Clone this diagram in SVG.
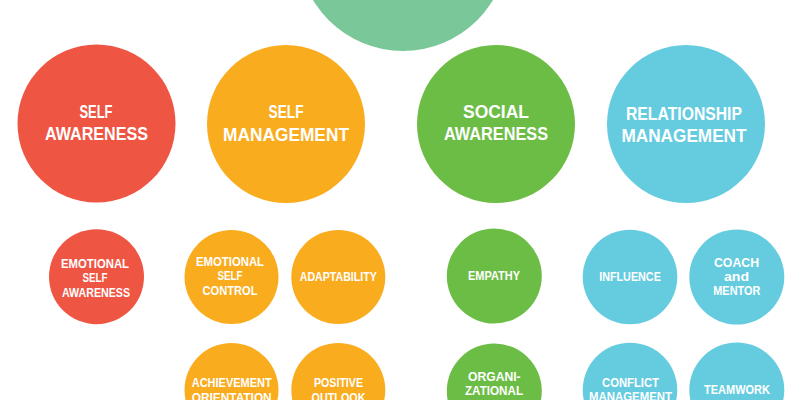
<svg xmlns="http://www.w3.org/2000/svg" width="800" height="400" viewBox="0 0 800 400">
<style>
.big{font-family:"Liberation Sans",Arial,sans-serif;font-weight:bold;font-size:17.5px;fill:#fff;text-anchor:middle}
.sm{font-family:"Liberation Sans",Arial,sans-serif;font-weight:bold;font-size:12px;fill:#fff;text-anchor:middle}
.red{fill:#EF5543}.org{fill:#FAAC1F}.grn{fill:#6CBD45}.blu{fill:#65CCE0}.teal{fill:#7AC899}
</style>
<rect width="800" height="400" fill="#fff"/>
<g id="connectors"/>
<g id="root"><circle class="teal" cx="403" cy="-54" r="105"/></g>
<g id="self-awareness"><circle class="red" cx="96.5" cy="123.5" r="79"/>
<text class="big" x="96" y="118" textLength="33" lengthAdjust="spacingAndGlyphs">SELF</text>
<text class="big" x="96.5" y="140" textLength="103" lengthAdjust="spacingAndGlyphs">AWARENESS</text></g>
<g id="self-management"><circle class="org" cx="286" cy="124" r="79"/>
<text class="big" x="286" y="118" textLength="35" lengthAdjust="spacingAndGlyphs">SELF</text>
<text class="big" x="286" y="141" textLength="126" lengthAdjust="spacingAndGlyphs">MANAGEMENT</text></g>
<g id="social-awareness"><circle class="grn" cx="496" cy="124" r="79"/>
<text class="big" x="496" y="118" textLength="66" lengthAdjust="spacingAndGlyphs">SOCIAL</text>
<text class="big" x="496" y="140" textLength="104" lengthAdjust="spacingAndGlyphs">AWARENESS</text></g>
<g id="relationship-management"><circle class="blu" cx="686" cy="124" r="79"/>
<text class="big" x="684" y="120" textLength="116" lengthAdjust="spacingAndGlyphs">RELATIONSHIP</text>
<text class="big" x="684" y="141.5" textLength="125" lengthAdjust="spacingAndGlyphs">MANAGEMENT</text></g>

<g id="emotional-self-awareness"><circle class="red" cx="96.5" cy="276.7" r="47.5"/>
<text class="sm" x="95" y="267.7" textLength="68" lengthAdjust="spacingAndGlyphs">EMOTIONAL</text>
<text class="sm" x="95" y="282.3" textLength="25" lengthAdjust="spacingAndGlyphs">SELF</text>
<text class="sm" x="96" y="296.7" textLength="68" lengthAdjust="spacingAndGlyphs">AWARENESS</text></g>
<g id="emotional-self-control"><circle class="org" cx="231.5" cy="277" r="47"/>
<text class="sm" x="230" y="265.7" textLength="68" lengthAdjust="spacingAndGlyphs">EMOTIONAL</text>
<text class="sm" x="230" y="280.3" textLength="25" lengthAdjust="spacingAndGlyphs">SELF</text>
<text class="sm" x="230" y="294.7" textLength="55" lengthAdjust="spacingAndGlyphs">CONTROL</text></g>
<g id="adaptability"><circle class="org" cx="338.3" cy="277" r="47"/>
<text class="sm" x="338.3" y="280.7" textLength="77" lengthAdjust="spacingAndGlyphs">ADAPTABILITY</text></g>
<g id="achievement-orientation"><circle class="org" cx="231.5" cy="390" r="47"/>
<text class="sm" x="231.7" y="387.3" textLength="80" lengthAdjust="spacingAndGlyphs">ACHIEVEMENT</text>
<text class="sm" x="231.7" y="401.8" textLength="80" lengthAdjust="spacingAndGlyphs">ORIENTATION</text></g>
<g id="positive-outlook"><circle class="org" cx="338.3" cy="390" r="47"/>
<text class="sm" x="338.5" y="387.3" textLength="49" lengthAdjust="spacingAndGlyphs">POSITIVE</text>
<text class="sm" x="338.5" y="401.8" textLength="54" lengthAdjust="spacingAndGlyphs">OUTLOOK</text></g>

<g id="empathy"><circle class="grn" cx="494.3" cy="276" r="47.5"/>
<text class="sm" x="494" y="280" textLength="52" lengthAdjust="spacingAndGlyphs">EMPATHY</text></g>
<g id="organizational-awareness"><circle class="grn" cx="494.3" cy="391" r="47.5"/>
<text class="sm" x="494.3" y="380.7" textLength="52.7" lengthAdjust="spacingAndGlyphs">ORGANI-</text>
<text class="sm" x="494" y="395" textLength="58" lengthAdjust="spacingAndGlyphs">ZATIONAL</text></g>

<g id="influence"><circle class="blu" cx="630" cy="277" r="47.3"/>
<text class="sm" x="630" y="281" textLength="61.7" lengthAdjust="spacingAndGlyphs">INFLUENCE</text></g>
<g id="coach-and-mentor"><circle class="blu" cx="736.8" cy="277" r="47.5"/>
<text class="sm" x="736.5" y="266.7" textLength="45" lengthAdjust="spacingAndGlyphs">COACH</text>
<text class="sm" x="736.5" y="281" textLength="25" lengthAdjust="spacingAndGlyphs">and</text>
<text class="sm" x="736.8" y="295.3" textLength="47" lengthAdjust="spacingAndGlyphs">MENTOR</text></g>
<g id="conflict-management"><circle class="blu" cx="630" cy="390" r="47.3"/>
<text class="sm" x="630.5" y="386.7" textLength="57" lengthAdjust="spacingAndGlyphs">CONFLICT</text>
<text class="sm" x="630.5" y="401.2" textLength="83" lengthAdjust="spacingAndGlyphs">MANAGEMENT</text></g>
<g id="teamwork"><circle class="blu" cx="736.8" cy="390" r="47.5"/>
<text class="sm" x="737" y="394" textLength="66" lengthAdjust="spacingAndGlyphs">TEAMWORK</text></g>
</svg>
